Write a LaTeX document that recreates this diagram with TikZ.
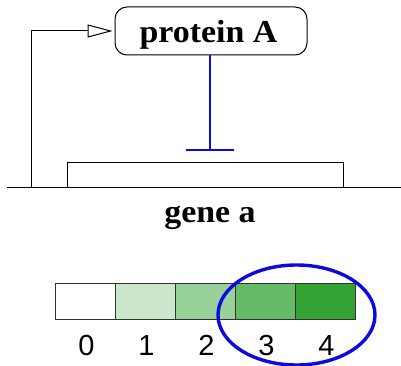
\documentclass[tikz,border=0pt]{standalone}
\usepackage{fontspec}
\setmainfont{Liberation Serif}
\newfontfamily\digitfont{Liberation Sans}
\usetikzlibrary{arrows.meta,shapes.geometric}
\definecolor{gA}{RGB}{204,232,204}
\definecolor{gB}{RGB}{153,210,153}
\definecolor{gC}{RGB}{102,187,102}
\definecolor{gD}{RGB}{51,164,51}
\definecolor{hlblue}{RGB}{10,10,225}
\tikzset{
  thin line/.style={line width=1pt, black},
  protbox/.style={draw, line width=1pt, rounded corners=12pt, minimum width=192pt,
    inner sep=0pt, text height=36pt, text depth=12pt, align=center},
  genebox/.style={draw, line width=1pt, minimum width=276pt, minimum height=24pt, inner sep=0pt},
  bigbold/.style={font=\fontsize{32}{32}\selectfont\bfseries},
  cell/.style={draw=black!80, line width=1pt, minimum width=60pt, minimum height=36pt, inner sep=0pt},
  digit/.style={font=\fontsize{29}{29}\selectfont\digitfont, anchor=base, inner sep=0pt},
  inhib/.style={hlblue, line width=1.6pt, -{Bar[width=48pt]}},
  activ/.style={thin line, -{Triangle[open, length=25pt, width=13pt]}, shorten >=2pt},
  highlight/.style={draw=hlblue, line width=3.4pt, ellipse, minimum width=157pt, minimum height=100pt, inner sep=0pt}
}
\begin{document}
\begin{tikzpicture}[x=1pt,y=-1pt]
\useasboundingbox (0,0) rectangle (401,366);
% protein
\node[protbox, bigbold] (prot) at (211,31) {\hspace*{-5pt}\scalebox{1.06}[1]{protein A}};
% gene
\node[genebox] (gene) at (205,175) {};
\coordinate (lineL) at (7,187);
\coordinate (lineR) at (401,187);
\draw[thin line] (lineL) -- (lineR);
\coordinate (tss) at (31,187);
\draw[activ] (tss) |- (prot.west);
\coordinate (rep) at (210,151);
\draw[inhib] (prot.south -| rep) -- (rep);
\node[bigbold, anchor=base, inner sep=0pt] (genelabel) at (210,222) {\scalebox{1.06}[1]{gene a}};
% colour bar
\node[cell, fill=white] (c0) at (85,301.5) {};
\node[cell, fill=gA] (c1) at (145,301.5) {};
\node[cell, fill=gB] (c2) at (205,301.5) {};
\node[cell, fill=gC] (c3) at (265,301.5) {};
\node[cell, fill=gD] (c4) at (325,301.5) {};
\node[digit] (d0) at (86.5,355) {0};
\node[digit] (d1) at (146.5,355) {1};
\node[digit] (d2) at (206.5,355) {2};
\node[digit] (d3) at (266.5,355) {3};
\node[digit] (d4) at (326.5,355) {4};
\node[highlight] (hl) at (296.5,315) {};
\end{tikzpicture}
\end{document}
